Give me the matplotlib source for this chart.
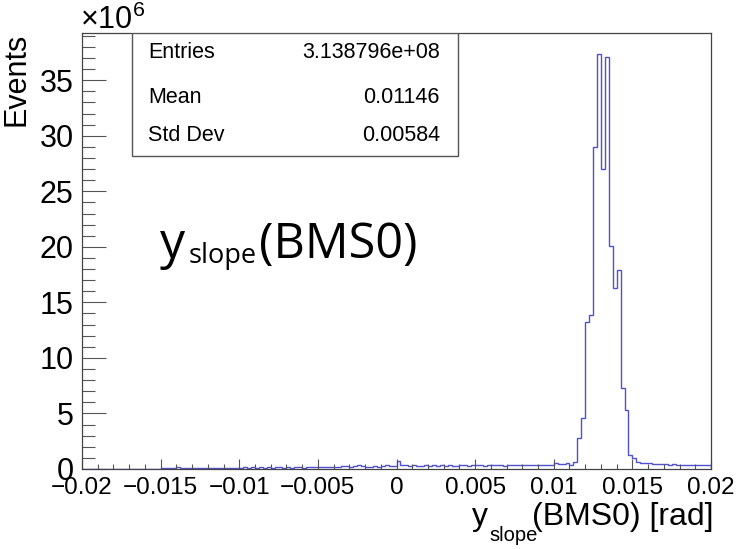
import numpy as np
import matplotlib
matplotlib.use("Agg")
import matplotlib.pyplot as plt
from matplotlib.ticker import FixedLocator, MultipleLocator, FixedFormatter

plt.rcParams['font.family'] = ['Liberation Sans', 'DejaVu Sans']

# histogram contents (units of 1e6 events), 160 bins from -0.02 to 0.02
x_lo, x_hi, n_bins = -0.02, 0.02, 160
counts = [
    # -0.02 .. -0.015
    0.03, 0.03, 0.03, 0.03, 0.03, 0.03, 0.03, 0.03, 0.03, 0.03,
    0.03, 0.03, 0.03, 0.03, 0.03, 0.03, 0.03, 0.03, 0.03, 0.03,
    # -0.015 .. -0.01
    0.08, 0.12, 0.06, 0.10, 0.14, 0.08, 0.12, 0.06, 0.10, 0.12,
    0.10, 0.08, 0.10, 0.10, 0.12, 0.08, 0.06, 0.10, 0.12, 0.10,
    # -0.01 .. -0.005
    0.12, 0.14, 0.10, 0.16, 0.12, 0.14, 0.12, 0.16, 0.12, 0.14,
    0.16, 0.12, 0.14, 0.12, 0.16, 0.14, 0.12, 0.16, 0.14, 0.15,
    # -0.005 .. 0
    0.16, 0.14, 0.20, 0.16, 0.14, 0.18, 0.30, 0.28, 0.20, 0.24,
    0.35, 0.30, 0.22, 0.20, 0.24, 0.22, 0.30, 0.34, 0.24, 0.28,
    # 0 .. 0.005
    0.72, 0.38, 0.34, 0.30, 0.36, 0.30, 0.28, 0.34, 0.30, 0.32,
    0.28, 0.36, 0.30, 0.32, 0.30, 0.30, 0.38, 0.32, 0.30, 0.34,
    # 0.005 .. 0.01
    0.32, 0.36, 0.30, 0.34, 0.40, 0.32, 0.36, 0.30, 0.34, 0.32,
    0.36, 0.34, 0.34, 0.36, 0.34, 0.36, 0.34, 0.36, 0.35, 0.38,
    # 0.01 .. 0.015
    0.50, 0.46, 0.44, 0.50, 0.40, 0.60, 2.8, 4.6, 13.2, 13.9,
    29.0, 37.4, 27.0, 37.1, 20.1, 16.3, 17.9, 7.3, 5.3, 1.26,
    # 0.015 .. 0.02
    1.0, 0.66, 0.55, 0.50, 0.55, 0.45, 0.48, 0.42, 0.45, 0.40,
    0.42, 0.38, 0.40, 0.38, 0.36, 0.40, 0.35, 0.38, 0.36, 0.40,
]

x_ticks = [-0.02, -0.015, -0.01, -0.005, 0, 0.005, 0.01, 0.015, 0.02]
x_tick_labels = ["\u22120.02", "\u22120.015", "\u22120.01", "\u22120.005", "0",
                 "0.005", "0.01", "0.015", "0.02"]
y_ticks = [0, 5, 10, 15, 20, 25, 30, 35]

stat_names = ["Entries", "Mean", "Std Dev"]
stat_values = ["3.138796e+08", "0.01146", "0.00584"]

W, H = 743, 549
fig = plt.figure(figsize=(W / 100, H / 100), dpi=100)
ax = fig.add_axes([82 / W, 1 - 469 / H, 629 / W, 436 / H])

edges = np.linspace(x_lo, x_hi, n_bins + 1)
ax.stairs(counts, edges, color='#5050d0', linewidth=1.0, baseline=0)

ax.set_xlim(x_lo, x_hi)
ax.set_ylim(0, 39.25)

ax.xaxis.set_major_locator(FixedLocator(x_ticks))
ax.xaxis.set_major_formatter(FixedFormatter(x_tick_labels))
ax.xaxis.set_minor_locator(MultipleLocator(0.001))
ax.yaxis.set_major_locator(FixedLocator(y_ticks))
ax.yaxis.set_minor_locator(MultipleLocator(1))

ax.tick_params(axis='both', which='both', direction='in', colors='#555555',
               labelcolor='black')
ax.tick_params(axis='x', which='major', length=7.5, width=0.8, pad=6, labelsize=17.5)
ax.tick_params(axis='x', which='minor', length=3.75, width=0.8)
ax.tick_params(axis='y', which='major', length=17, width=0.8, pad=6, labelsize=22)
ax.tick_params(axis='y', which='minor', length=9, width=0.8)
for s in ax.spines.values():
    s.set_color('#444444')
    s.set_linewidth(0.9)

# stats box
ax.add_patch(plt.Rectangle((0.079, 0.718), 0.519, 0.282, transform=ax.transAxes,
                           facecolor='white', edgecolor='#555555', linewidth=1.0, zorder=3))
row_y = [0.956, 0.853, 0.766]
for name, val, yy in zip(stat_names, stat_values, row_y):
    ax.text(0.105, yy, name, transform=ax.transAxes, fontsize=15.5,
            va='center', ha='left', zorder=4)
    ax.text(0.569, yy, val, transform=ax.transAxes, fontsize=15.5,
            va='center', ha='right', zorder=4)

def px(x, y):
    return x / W, 1 - y / H

# big annotation inside the pad
fig.text(*px(160, 258), "y", fontsize=36, family='Open Sans', va='baseline')
fig.text(*px(189, 263), "slope", fontsize=19.5, family='Open Sans', va='baseline')
fig.text(*px(259, 258), "(BMS0)", fontsize=35, family='Open Sans', va='baseline')

# x axis title
fig.text(*px(472, 525), "y", fontsize=23, va='baseline')
fig.text(*px(489, 541), "slope", fontsize=14.5, va='baseline')
fig.text(*px(713, 525), "(BMS0) [rad]", fontsize=23, va='baseline', ha='right')

# y axis title and exponent
fig.text(*px(25, 33), "Events", fontsize=22, rotation=90,
         ha='right', va='baseline', rotation_mode='anchor')
fig.text(*px(80, 29), r"$\mathregular{\times10^{6}}$", fontsize=22, va='baseline')

fig.savefig("out.png", dpi=100)
